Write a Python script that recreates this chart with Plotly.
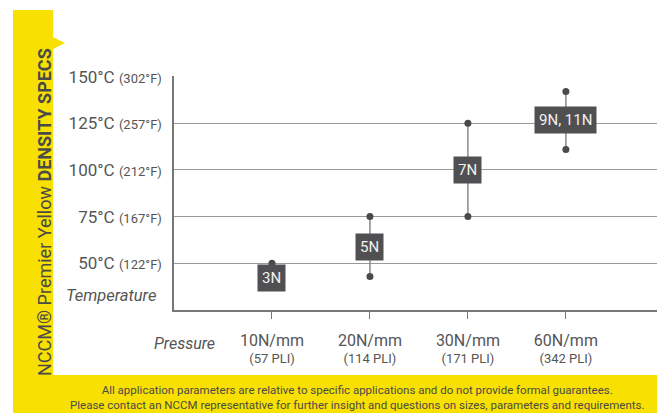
import plotly.graph_objects as go

# ---- data ----
pressures = ["10N/mm", "20N/mm", "30N/mm", "60N/mm"]
pli = ["(57 PLI)", "(114 PLI)", "(171 PLI)", "(342 PLI)"]
densities = ["3N", "5N", "7N", "9N, 11N"]
temp_low = [None, 43, 75, 111]
temp_high = [50, 75, 125, 142]
label_temp = [42, 59, 100, 126.5]
temp_ticks_c = [50, 75, 100, 125, 150]
temp_ticks_f = [122, 167, 212, 257, 302]

W, H = 657, 413
L, R, T, B = 174, 0, 76, 103
FONT = "Roboto, Liberation Sans, sans-serif"
YEL = "#F8E000"
GRID = "#9a9a9a"
TXT = "#555555"

def px(x):
    return (x - L) / (W - L - R)

def py(y):
    return (H - B - y) / (H - T - B)

xpos = list(range(1, len(pressures) + 1))
xr = [0, 4.93]
yr = [25, 150.3]

fig = go.Figure()
for i, (lo, hi) in enumerate(zip(temp_low, temp_high)):
    ys = [v for v in (lo, hi) if v is not None]
    fig.add_trace(go.Scatter(
        x=[xpos[i]] * len(ys), y=ys, mode="lines+markers",
        line=dict(color="#8a8a8a", width=1.5),
        marker=dict(color="#4a4a4c", size=7),
        showlegend=False, hoverinfo="skip"))

for i, d in enumerate(densities):
    fig.add_annotation(x=xpos[i], y=label_temp[i], text=d, showarrow=False,
                       bgcolor="#505052", borderpad=4,
                       xanchor="center", yanchor="middle",
                       font=dict(family=FONT, size=15, color="#f0f0f0"))

ticktext_y = [f"{c}°C <span style='font-size:13px'>({f}°F)</span>"
              for c, f in zip(temp_ticks_c, temp_ticks_f)]
ticktext_x = [f"<span style='font-size:16px'>{p}</span><br>{q}"
              for p, q in zip(pressures, pli)]

fig.update_layout(
    width=W, height=H, margin=dict(l=L, r=R, t=T, b=B),
    paper_bgcolor="white", plot_bgcolor="white",
    font=dict(family=FONT, color=TXT),
    xaxis=dict(range=xr, tickvals=xpos, ticktext=ticktext_x,
               showgrid=False, zeroline=False, showline=True,
               linecolor="#777777", linewidth=1.5,
               ticks="outside", ticklen=7, tickcolor="#777777", tickwidth=1.2,
               ticklabelstandoff=12,
               tickfont=dict(family=FONT, size=13, color=TXT)),
    xaxis2=dict(range=xr, tickvals=xpos, overlaying="x", anchor="y",
                showticklabels=False, showgrid=False, zeroline=False,
                showline=False, ticks="inside", ticklen=7,
                tickcolor="#777777", tickwidth=1.2),
    yaxis=dict(range=yr, tickvals=temp_ticks_c, ticktext=ticktext_y,
               showgrid=True, gridcolor=GRID, gridwidth=1.2,
               zeroline=False, showline=True, linecolor="#777777",
               linewidth=1.5, ticks="", ticklabelstandoff=7,
               tickfont=dict(family=FONT, size=17, color=TXT)),
    yaxis2=dict(range=yr, tickvals=[125], overlaying="y", anchor="x",
                showticklabels=False, showgrid=True, gridcolor="#555555",
                gridwidth=1.2, zeroline=False, showline=False, ticks=""),
)

# yellow frame
fig.add_shape(type="rect", xref="paper", yref="paper",
              x0=px(13), x1=px(53), y0=py(10), y1=py(413),
              fillcolor=YEL, line_width=0, layer="below")
fig.add_shape(type="rect", xref="paper", yref="paper",
              x0=px(13), x1=px(657), y0=py(375), y1=py(413),
              fillcolor=YEL, line_width=0, layer="below")
fig.add_shape(type="path", xref="paper", yref="paper",
              path=f"M {px(53)} {py(37)} L {px(65)} {py(43)} L {px(53)} {py(49)} Z",
              fillcolor=YEL, line_width=0, layer="below")

fig.add_annotation(xref="paper", yref="paper", x=px(45), y=py(212),
                   xanchor="center", yanchor="middle",
                   text="NCCM® Premier Yellow <b>DENSITY SPECS</b>",
                   textangle=-90, showarrow=False,
                   font=dict(family=FONT, size=18, color="#4a4a4a"))
fig.add_annotation(xref="paper", yref="paper", x=px(158), y=py(295),
                   xanchor="right", yanchor="middle",
                   text="<i>Temperature</i>", showarrow=False,
                   font=dict(family=FONT, size=16.5, color=TXT))
fig.add_annotation(xref="paper", yref="paper", x=px(184), y=py(343),
                   xanchor="center", yanchor="middle",
                   text="<i>Pressure</i>", showarrow=False,
                   font=dict(family=FONT, size=16, color=TXT))
fig.add_annotation(xref="paper", yref="paper", x=px(357), y=py(397),
                   xanchor="center", yanchor="middle",
                   text="All application parameters are relative to specific applications and do not provide formal guarantees.<br>"
                        "Please contact an NCCM representative for further insight and questions on sizes, parameters and requirements.",
                   showarrow=False, align="center",
                   font=dict(family=FONT, size=11.5, color="#4a4a4a"))

fig.write_html("out.html", config={"displayModeBar": False},
               post_script="document.body.style.margin='0';")
